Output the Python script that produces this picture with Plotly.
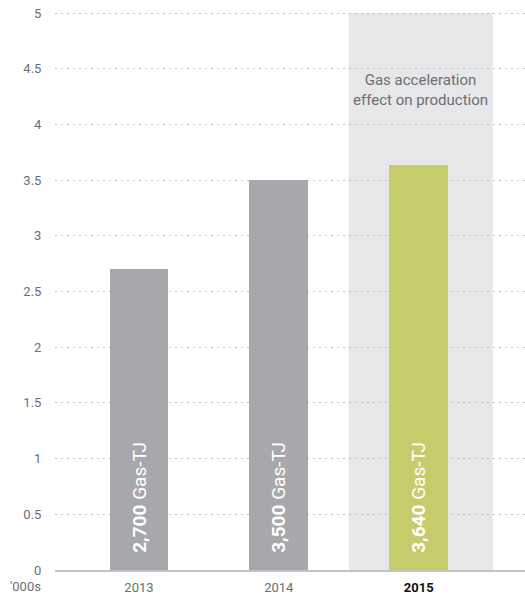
import plotly.graph_objects as go

# Gas production ('000s of TJ)
years = ["2013", "2014", "2015"]
production = [2.7, 3.5, 3.64]
value_labels = ["2,700", "3,500", "3,640"]
bar_colors = ["#a7a8ab", "#a7a8ab", "#c6cc6c"]
y_ticks = [0, 0.5, 1, 1.5, 2, 2.5, 3, 3.5, 4, 4.5, 5]
y_tick_labels = ["0", "0.5", "1", "1.5", "2", "2.5", "3", "3.5", "4", "4.5", "5"]
x_tick_labels = ["2013", "2014", "<b><span style='color:#111'>2015</span></b>"]

FONT = "Roboto, 'Noto Sans', sans-serif"

x_pos = list(range(len(years)))

fig = go.Figure()

fig.add_trace(go.Bar(
    x=x_pos,
    y=production,
    width=0.42,
    marker=dict(color=bar_colors, line=dict(width=0)),
    text=[f"\u00a0\u00a0\u00a0<b>{v}</b> Gas-TJ" for v in value_labels],
    textposition="inside",
    insidetextanchor="start",
    textangle=-90,
    textfont=dict(family=FONT, size=19, color="white"),
    hoverinfo="skip",
))

# shaded band behind the 2015 bar
fig.add_shape(type="rect", xref="x", yref="y",
              x0=1.5, x1=2.53, y0=0, y1=5,
              fillcolor="#e6e7e9", line=dict(width=0), layer="below")

fig.add_annotation(x=2.015, y=4.31, xref="x", yref="y",
                   text="Gas acceleration<br>effect on production",
                   showarrow=False, align="center",
                   font=dict(family=FONT, size=15, color="#6d6e71"))

fig.add_annotation(x=-0.026, y=0, xref="paper", yref="paper",
                   xanchor="right", yanchor="top", yshift=-7,
                   text="'000s", showarrow=False,
                   font=dict(family=FONT, size=13, color="#6d6e71"))

fig.update_layout(
    width=525, height=602,
    margin=dict(l=55, r=0, t=12, b=32),
    paper_bgcolor="white", plot_bgcolor="rgba(0,0,0,0)",
    showlegend=False,
    bargap=0,
    xaxis=dict(
        range=[-0.6, 2.76],
        tickvals=x_pos, ticktext=x_tick_labels,
        tickfont=dict(family=FONT, size=13, color="#6d6e71"),
        showgrid=False, zeroline=False,
        showline=True, linecolor="#c2c3c5", linewidth=2,
        ticks="outside", ticklen=4, tickcolor="rgba(0,0,0,0)",
    ),
    yaxis=dict(
        range=[0, 5.01],
        tickvals=y_ticks, ticktext=y_tick_labels,
        tickfont=dict(family=FONT, size=13, color="#6d6e71"),
        showgrid=True, gridcolor="#bdbec0", gridwidth=1, griddash="2px,4px",
        zeroline=False, showline=False,
        ticks="outside", ticklen=10, tickcolor="rgba(0,0,0,0)",
        layer="above traces",
    ),
)

fig.write_html("out.html")
